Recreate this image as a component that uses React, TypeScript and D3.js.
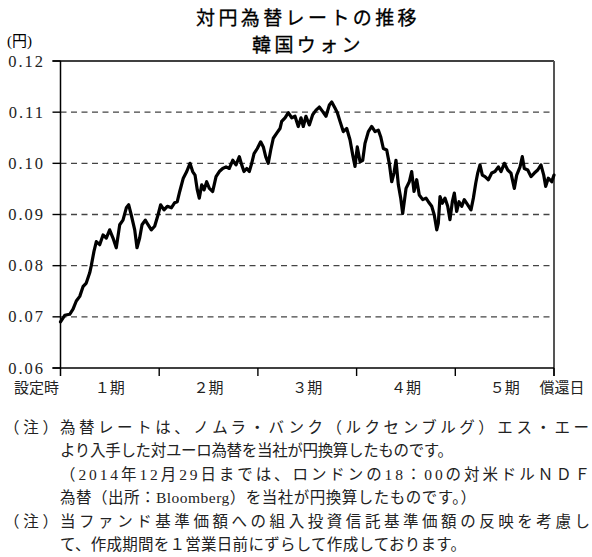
import React from 'react';
import * as d3 from 'd3';

// x position in periods (0 = 設定時, 5 = 償還日)
const periodT = [
  0, 0.043, 0.093, 0.127, 0.16, 0.195, 0.228, 0.261, 0.296, 0.312, 0.339, 0.363, 0.397, 0.431, 0.464, 0.498,
  0.532, 0.565, 0.6, 0.633, 0.667, 0.691, 0.717, 0.752, 0.775, 0.802, 0.826, 0.859, 0.887, 0.92, 0.954, 0.988,
  1.015, 1.049, 1.082, 1.123, 1.157, 1.183, 1.208, 1.244, 1.279, 1.312, 1.339, 1.363, 1.386, 1.406, 1.431, 1.454,
  1.481, 1.508, 1.542, 1.576, 1.609, 1.643, 1.677, 1.71, 1.745, 1.778, 1.812, 1.836, 1.859, 1.887, 1.913, 1.937,
  1.961, 1.994, 2.028, 2.055, 2.079, 2.105, 2.13, 2.156, 2.191, 2.224, 2.241, 2.275, 2.308, 2.343, 2.376, 2.409,
  2.437, 2.46, 2.487, 2.521, 2.555, 2.589, 2.622, 2.657, 2.69, 2.724, 2.748, 2.781, 2.805, 2.832, 2.865, 2.9,
  2.933, 2.961, 2.984, 3.007, 3.035, 3.062, 3.085, 3.119, 3.153, 3.187, 3.22, 3.244, 3.271, 3.305, 3.331, 3.356,
  3.379, 3.399, 3.423, 3.447, 3.467, 3.501, 3.534, 3.558, 3.582, 3.609, 3.635, 3.67, 3.703, 3.727, 3.761, 3.787,
  3.812, 3.828, 3.845, 3.868, 3.896, 3.923, 3.946, 3.97, 3.99, 4.014, 4.038, 4.065, 4.091, 4.126, 4.159, 4.183,
  4.207, 4.227, 4.25, 4.274, 4.301, 4.335, 4.369, 4.402, 4.436, 4.463, 4.497, 4.531, 4.564, 4.598, 4.622, 4.656,
  4.679, 4.699, 4.734, 4.767, 4.801, 4.835, 4.868, 4.896, 4.916, 4.942, 4.977, 5.0,
];

// 円 per 1 ウォン
const rateKRW = [
  0.069, 0.0703, 0.0705, 0.0715, 0.0731, 0.074, 0.0759, 0.0766, 0.0786, 0.08, 0.0828, 0.0847, 0.0841, 0.086, 0.0854, 0.087,
  0.0854, 0.0835, 0.088, 0.0889, 0.0913, 0.0919, 0.0899, 0.087, 0.0835, 0.0854, 0.088, 0.0889, 0.088, 0.087, 0.0877, 0.0899,
  0.0919, 0.0909, 0.0916, 0.0913, 0.0923, 0.0925, 0.0945, 0.0971, 0.0984, 0.1, 0.0984, 0.0977, 0.0948, 0.0932, 0.0958, 0.0948,
  0.0964, 0.0951, 0.0945, 0.0974, 0.0984, 0.099, 0.0993, 0.099, 0.1006, 0.0997, 0.1013, 0.0997, 0.0984, 0.099, 0.0984, 0.1,
  0.1019, 0.1029, 0.1042, 0.1032, 0.1013, 0.1, 0.1026, 0.1049, 0.1059, 0.1068, 0.1082, 0.1089, 0.1099, 0.1089, 0.1092, 0.1072,
  0.1089, 0.1072, 0.1092, 0.1075, 0.1095, 0.1104, 0.111, 0.1101, 0.1092, 0.1114, 0.112, 0.1108, 0.1099, 0.1082, 0.1062, 0.1068,
  0.1046, 0.1016, 0.0994, 0.1032, 0.1003, 0.1006, 0.1039, 0.1062, 0.1072, 0.1062, 0.1065, 0.1052, 0.1029, 0.1026, 0.1, 0.0964,
  0.0981, 0.1006, 0.0958, 0.0932, 0.0902, 0.0951, 0.0964, 0.0984, 0.0945, 0.0968, 0.0938, 0.0929, 0.0932, 0.0925, 0.0916, 0.0899,
  0.087, 0.0883, 0.0935, 0.0922, 0.0932, 0.0916, 0.089, 0.0925, 0.0942, 0.0906, 0.0925, 0.0916, 0.0929, 0.0919, 0.0909, 0.0932,
  0.0961, 0.0981, 0.0997, 0.0977, 0.0974, 0.0968, 0.0981, 0.0984, 0.0993, 0.0984, 0.1, 0.0987, 0.0981, 0.0951, 0.0977, 0.0993,
  0.1013, 0.099, 0.0987, 0.0974, 0.0981, 0.0987, 0.0997, 0.0977, 0.0955, 0.0971, 0.0964, 0.0977,
];

const yTicks = [0.06, 0.07, 0.08, 0.09, 0.1, 0.11, 0.12];
const periodLabels = ['１期', '２期', '３期', '４期', '５期'];
const startLabel = '設定時';
const endLabel = '償還日';

const titleLines = ['対円為替レートの推移', '韓国ウォン'];
const unitLabel = '(円)';

const notes = [
  { head: '（注）', text: '為替レートは、ノムラ・バンク（ルクセンブルグ）エス・エー', end: 589 },
  { head: '', text: 'より入手した対ユーロ為替を当社が円換算したものです。', end: 453 },
  { head: '', text: '（2014年12月29日までは、ロンドンの18：00の対米ドルＮＤＦ', end: 590 },
  { head: '', text: '為替（出所：Bloomberg）を当社が円換算したものです。）', end: 476 },
  { head: '（注）', text: '当ファンド基準価額への組入投資信託基準価額の反映を考慮し', end: 590 },
  { head: '', text: 'て、作成期間を１営業日前にずらして作成しております。', end: 466 },
];

const W = 592;
const H = 557;
const margin = { top: 61, right: 38, bottom: 189, left: 60.5 };

const SERIF = "'Liberation Serif', 'Noto Sans CJK JP', serif";
const GOTHIC = "'Noto Sans CJK JP', sans-serif";

export default function App() {
  const x = d3.scaleLinear().domain([0, 5]).range([margin.left, W - margin.right]);
  const y = d3.scaleLinear().domain([0.06, 0.12]).range([H - margin.bottom, margin.top]);

  const data = periodT.map((t, i) => [t, rateKRW[i]] as [number, number]);
  const line = d3.line<[number, number]>()
    .x(d => x(d[0]))
    .y(d => y(d[1]))
    .curve(d3.curveLinear);

  const fmt = d3.format('.2f');
  const x0 = x(0);
  const x1 = x(5);
  const yTop = y(0.12);
  const yBot = y(0.06);
  const noteX = 60;

  return (
    <svg width={W} height={H} style={{ position: 'absolute', left: 0, top: 0, background: '#fff' }}>
      {/* title */}
      {titleLines.map((t, i) => (
        <text key={t} x={308} y={24.5 + i * 27.6} textAnchor="middle" fontFamily={GOTHIC}
          fontSize={19} letterSpacing={3.4} fill="#000" stroke="#000" strokeWidth={0.3}>{t}</text>
      ))}
      <text x={7} y={46} fontFamily={SERIF} fontSize={15} fill="#000">{unitLabel}</text>

      {/* grid */}
      {yTicks.filter(v => v > 0.065 && v < 0.115).map(v => (
        <line key={v} x1={x0} x2={x1} y1={y(v)} y2={y(v)} stroke="#444" strokeWidth={1.3} strokeDasharray="6,4.5" />
      ))}

      {/* frame */}
      <line x1={x0 - 8} x2={x1} y1={yTop} y2={yTop} stroke="#000" strokeWidth={1.4} />
      <line x1={x1} x2={x1} y1={yTop} y2={yBot + 8} stroke="#555" strokeWidth={2} />
      <line x1={x0} x2={x0} y1={yTop} y2={yBot + 8} stroke="#000" strokeWidth={1.5} />
      <line x1={x0 - 8} x2={x1} y1={yBot} y2={yBot} stroke="#000" strokeWidth={1.5} />

      {/* y ticks */}
      {yTicks.map(v => (
        <g key={v}>
          <line x1={x0 - 8} x2={x0} y1={y(v)} y2={y(v)} stroke="#000" strokeWidth={1.4} />
          <text x={45} y={y(v) + 5.5} textAnchor="end" fontFamily={SERIF} fontSize={16.5}
            letterSpacing={2} fill="#222">{fmt(v)}</text>
        </g>
      ))}

      {/* x ticks */}
      {d3.range(1, 6).map(i => (
        <line key={i} x1={x(i)} x2={x(i)} y1={yBot} y2={yBot + 8} stroke="#000" strokeWidth={1.4} />
      ))}
      {periodLabels.map((l, i) => (
        <text key={l} x={x(i + 0.5)} y={yBot + 25} textAnchor="middle" fontFamily={GOTHIC} fontSize={15} fill="#222">{l}</text>
      ))}
      <text x={x0 - 24} y={yBot + 25} textAnchor="middle" fontFamily={GOTHIC} fontSize={15} fill="#222">{startLabel}</text>
      <text x={x1 + 8} y={yBot + 25} textAnchor="middle" fontFamily={GOTHIC} fontSize={15} fill="#222">{endLabel}</text>

      {/* series */}
      <path d={line(data) ?? ''} fill="none" stroke="#000" strokeWidth={3.2} strokeLinejoin="round" strokeLinecap="round" />

      {/* notes */}
      {notes.map((n, i) => {
        const ty = 433 + i * 23.4;
        return (
          <g key={i}>
            {n.head && (
              <text x={4} y={ty} fontFamily={SERIF} fontSize={15.5} textLength={54} lengthAdjust="spacing" fill="#222">{n.head}</text>
            )}
            <text x={noteX} y={ty} fontFamily={SERIF} fontSize={15.5} textLength={n.end - noteX}
              lengthAdjust="spacing" fill="#222">{n.text}</text>
          </g>
        );
      })}
    </svg>
  );
}
